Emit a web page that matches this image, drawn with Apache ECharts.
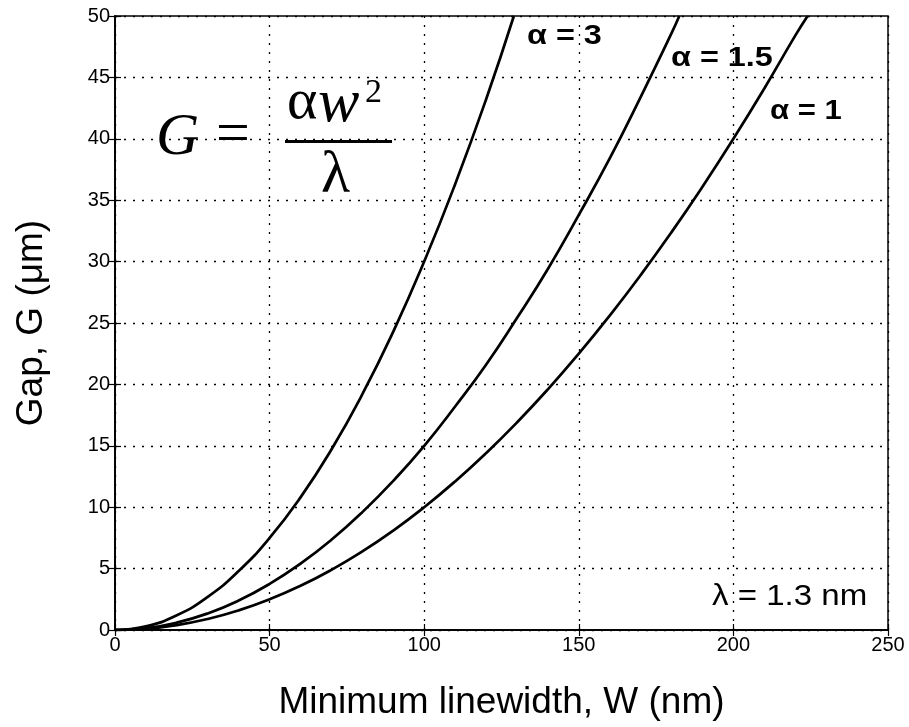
<!DOCTYPE html>
<html>
<head>
<meta charset="utf-8">
<script src="https://cdn.jsdelivr.net/npm/echarts@6/dist/echarts.min.js"></script>
<style>
  html, body { margin: 0; padding: 0; background: #fff; }
  #chart { width: 909px; height: 727px; }
</style>
</head>
<body>
<div id="chart"></div>
<script>
// Minimum linewidth W (nm) and gap G (µm) for three values of alpha
const w1 = [0, 10, 20, 30, 40, 50, 60, 70, 80, 90, 100, 110, 120, 130, 140, 150, 160, 170, 180, 190, 200, 210, 220, 224];
const gAlpha1 = [0, 0.1, 0.4, 0.9, 1.6, 2.5, 3.6, 4.9, 6.4, 8.1, 10, 12.1, 14.4, 16.9, 19.6, 22.5, 25.6, 28.9, 32.4, 36.1, 40, 44.1, 48.4, 50];

const w15 = [0, 10, 20, 30, 40, 50, 60, 70, 80, 90, 100, 110, 120, 130, 140, 150, 160, 170, 180, 182.5];
const gAlpha15 = [0, 0.15, 0.6, 1.35, 2.4, 3.75, 5.4, 7.35, 9.6, 12.15, 15, 18.2, 21.6, 25.4, 29.4, 33.8, 38.4, 43.4, 48.6, 50];

const w3 = [0, 10, 20, 30, 40, 50, 60, 70, 80, 90, 100, 110, 120, 129];
const gAlpha3 = [0, 0.3, 1.2, 2.7, 4.8, 7.5, 10.8, 14.7, 19.2, 24.3, 30, 36.3, 43.2, 50];

const xTicks = [0, 50, 100, 150, 200, 250];
const yTicks = [0, 5, 10, 15, 20, 25, 30, 35, 40, 45, 50];

const xTitle = 'Minimum linewidth, W (nm)';
const yTitle = 'Gap, G (μm)';

const pairs = (xs, ys) => xs.map((x, i) => [x, ys[i]]);

const sans = 'Liberation Sans, Arial, Helvetica, sans-serif';
const serif = 'Liberation Serif, Times New Roman, serif';

const gridLine = { show: true, lineStyle: { color: '#000', width: 1.3, type: [2, 7] } };

const chart = echarts.init(document.getElementById('chart'), null, { renderer: 'canvas' });

const lineSeries = (data) => ({
  type: 'line',
  data: data,
  smooth: true,
  showSymbol: false,
  symbol: 'none',
  clip: true,
  lineStyle: { color: '#000', width: 2.7 },
  xAxisIndex: 0,
  yAxisIndex: 0,
  animation: false
});

const frameAxis = { show: true, lineStyle: { color: '#000', width: 1.5 } };
const frameTick = { show: true, inside: true, length: 6, lineStyle: { color: '#000', width: 1.2 } };

// slightly widened annotation text
const note = (x, y, text, font, sx) => ({
  type: 'text', x: x, y: y, scaleX: sx, scaleY: 1,
  style: { text: text, font: font, fill: '#000', textAlign: 'left', textVerticalAlign: 'top' }
});

chart.setOption({
  backgroundColor: '#fff',
  animation: false,
  grid: {
    left: 115, right: 21, top: 16, bottom: 97,
    show: true, borderColor: '#000', borderWidth: 1.5, backgroundColor: 'transparent'
  },
  xAxis: [
    {
      type: 'value', min: xTicks[0], max: xTicks[xTicks.length - 1], interval: 50,
      axisLine: frameAxis, axisTick: frameTick,
      axisLabel: { color: '#000', fontFamily: sans, fontSize: 20, margin: 5 },
      splitLine: gridLine,
      name: xTitle, nameLocation: 'middle', nameGap: 54,
      nameTextStyle: { color: '#000', fontFamily: sans, fontSize: 37 }
    },
    {
      type: 'value', position: 'top', min: 0, max: 250, interval: 50,
      axisLine: frameAxis, axisTick: frameTick,
      axisLabel: { show: false }, splitLine: { show: false }
    }
  ],
  yAxis: [
    {
      type: 'value', min: yTicks[0], max: yTicks[yTicks.length - 1], interval: 5,
      axisLine: frameAxis, axisTick: frameTick,
      axisLabel: { color: '#000', fontFamily: sans, fontSize: 20, margin: 5 },
      splitLine: gridLine,
      name: yTitle, nameLocation: 'middle', nameGap: 65, nameRotate: 90,
      nameTextStyle: { color: '#000', fontFamily: sans, fontSize: 37 }
    },
    {
      type: 'value', position: 'right', min: 0, max: 50, interval: 5,
      axisLine: frameAxis, axisTick: frameTick,
      axisLabel: { show: false }, splitLine: { show: false }
    }
  ],
  series: [
    lineSeries(pairs(w1, gAlpha1)),
    lineSeries(pairs(w15, gAlpha15)),
    lineSeries(pairs(w3, gAlpha3))
  ],
  graphic: [
    // curve labels
    note(527, 23, 'α = 3', 'bold 27px ' + sans, 1.2),
    note(671, 45, 'α = 1.5', 'bold 27px ' + sans, 1.2),
    note(770, 98, 'α = 1', 'bold 27px ' + sans, 1.15),
    note(712, 582, 'λ = 1.3 nm', '29px ' + sans, 1.14),
    // formula G = αw² / λ
    { type: 'text', left: 156, top: 108, style: { text: 'G', font: 'italic 60px ' + serif, fill: '#000' } },
    { type: 'text', left: 216, top: 106, style: { text: '=', font: '60px ' + serif, fill: '#000' } },
    { type: 'text', left: 287, top: 74, style: { text: 'α', font: '58px ' + serif, fill: '#000' } },
    { type: 'text', left: 318, top: 74, style: { text: 'w', font: 'italic 62px ' + serif, fill: '#000' } },
    { type: 'text', left: 365, top: 76, style: { text: '2', font: '34px ' + serif, fill: '#000' } },
    { type: 'rect', shape: { x: 285, y: 140, width: 107, height: 3 }, style: { fill: '#000' } },
    { type: 'text', left: 321, top: 146, style: { text: 'λ', font: '60px ' + serif, fill: '#000' } }
  ]
});
</script>
</body>
</html>
